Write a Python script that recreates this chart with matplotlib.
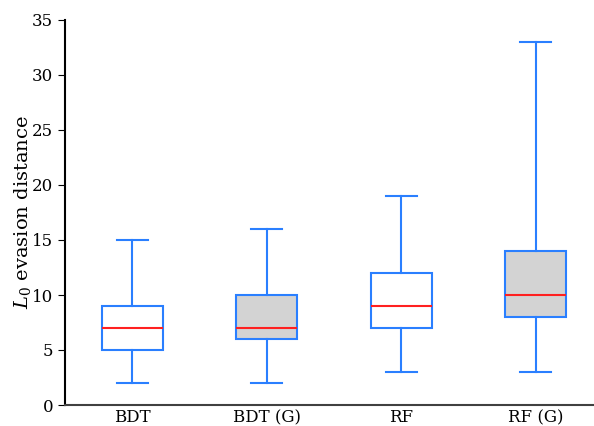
import matplotlib.pyplot as plt

# Estadísticos de cada caja (mínimo, Q1, mediana, Q3, máximo)
etiquetas = ['BDT', 'BDT (G)', 'RF', 'RF (G)']
minimos = [2, 2, 3, 3]
q1 = [5, 6, 7, 8]
medianas = [7, 7, 9, 10]
q3 = [9, 10, 12, 14]
maximos = [15, 16, 19, 33]
rellenos = ['white', 'lightgray', 'white', 'lightgray']

plt.rcParams['font.family'] = 'DejaVu Serif'
plt.rcParams['mathtext.fontset'] = 'dejavuserif'

stats = []
for i in range(len(etiquetas)):
    stats.append({'label': etiquetas[i], 'whislo': minimos[i], 'q1': q1[i],
                  'med': medianas[i], 'q3': q3[i], 'whishi': maximos[i],
                  'fliers': []})

azul = '#2a7fff'
fig = plt.figure(figsize=(5.94, 4.26), dpi=100)
ax = fig.add_axes([65 / 594, 21 / 426, 538 / 594, 385 / 426])

bp = ax.bxp(stats, widths=0.455, patch_artist=True, showfliers=False,
            boxprops=dict(edgecolor=azul, linewidth=1.5),
            whiskerprops=dict(color=azul, linewidth=1.5),
            capprops=dict(color=azul, linewidth=1.5),
            medianprops=dict(color='#ff2020', linewidth=1.5))
for caja, color in zip(bp['boxes'], rellenos):
    caja.set_facecolor(color)

ax.set_xlim(0.5, 4.5)
ax.set_ylim(0, 35)
ax.set_yticks(range(0, 36, 5))
ax.set_ylabel('$L_0$ evasion distance', fontsize=14)
ax.yaxis.set_label_coords(-32 / 538, 0.5)
ax.tick_params(axis='y', direction='out', length=5, labelsize=12)
ax.tick_params(axis='x', length=0, labelsize=12, pad=3)
ax.spines['top'].set_visible(False)
ax.spines['right'].set_visible(False)
ax.spines['bottom'].set_color('#404040')
ax.spines['left'].set_linewidth(1.5)
ax.spines['bottom'].set_linewidth(1.5)

plt.savefig('out.png', dpi=100)
